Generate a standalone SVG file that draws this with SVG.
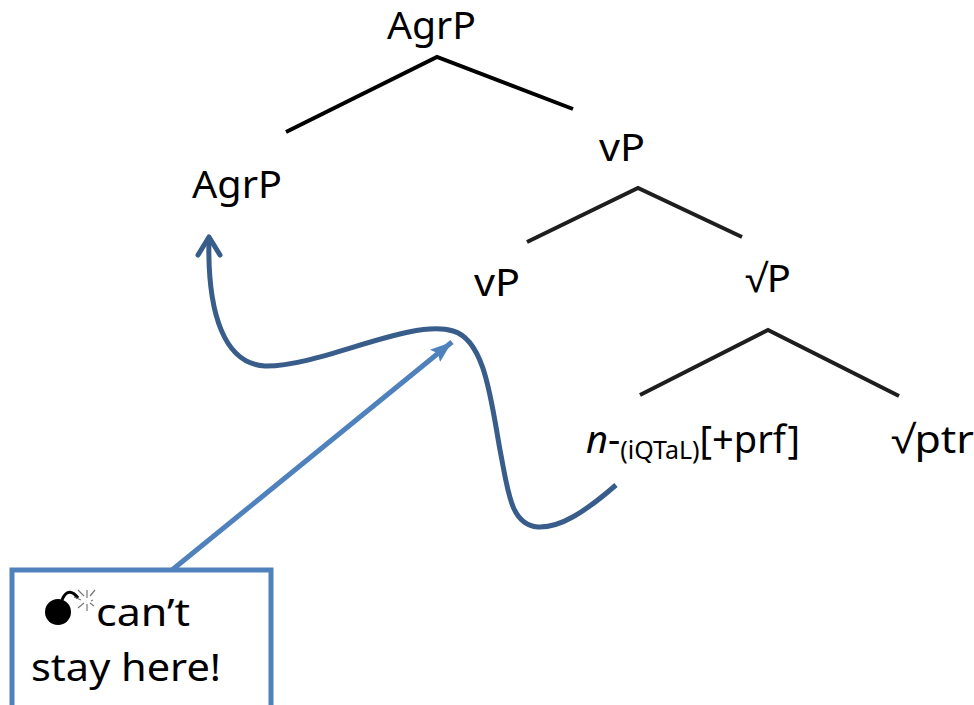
<svg xmlns="http://www.w3.org/2000/svg" width="974" height="705" viewBox="0 0 974 705">
<style>
text{font-family:"Noto Sans","Open Sans",sans-serif;font-size:38px;fill:#000}
.e{fill:none;stroke:#000;stroke-width:4}
.e2{fill:none;stroke:#1e1e1e;stroke-width:4}
</style>
<defs><marker id="tip" markerUnits="userSpaceOnUse" markerWidth="24" markerHeight="22" refX="22" refY="11" orient="auto"><path d="M0 3L22 11L0 19L4 11Z" fill="#4f81bd"/></marker></defs>
<rect width="974" height="705" fill="#fff"/>
<g id="connectors">
<path class="e" d="M286 132L437 57L573 109"/>
<path class="e2" d="M527 242L638 188L742 237"/>
<path class="e2" d="M640 395L768 330L899 396"/>
<path d="M616 485C585 512 560 528 538 527C510 525 508 490 500 450C491 400 485 340 453 331C410 318 320 367 265 366C225 364 207 315 209 238" fill="none" stroke="#385d8a" stroke-width="5"/>
<path d="M198 255L209 237L220 255" fill="none" stroke="#385d8a" stroke-width="5" stroke-linecap="round" stroke-linejoin="round"/>
<path d="M172 570L452 342" fill="none" stroke="#4f81bd" stroke-width="5" marker-end="url(#tip)"/>
</g>
<g id="n-agrp-top"><text x="387" y="39" textLength="89" lengthAdjust="spacingAndGlyphs">AgrP</text></g>
<g id="n-agrp"><text x="192" y="198" textLength="90" lengthAdjust="spacingAndGlyphs">AgrP</text></g>
<g id="n-vp-top"><text x="599" y="161" textLength="46" lengthAdjust="spacingAndGlyphs">vP</text></g>
<g id="n-vp"><text x="474" y="296" textLength="46" lengthAdjust="spacingAndGlyphs">vP</text></g>
<g id="n-rootp"><text x="745" y="292" textLength="46" lengthAdjust="spacingAndGlyphs">√P</text></g>
<g id="n-n"><text x="586" y="453"><tspan font-style="italic">n</tspan><tspan>-</tspan><tspan font-size="25" dy="6">(iQTaL)</tspan><tspan dy="-6">[+prf]</tspan></text></g>
<g id="n-ptr"><text x="891" y="453" textLength="83" lengthAdjust="spacingAndGlyphs">√ptr</text></g>
<g id="callout">
<rect x="12" y="570" width="259" height="150" fill="#fff" stroke="#4f81bd" stroke-width="5"/>
<circle cx="58" cy="612" r="13" fill="#000"/>
<path d="M62 600C66 590 72 590 78 598" fill="none" stroke="#000" stroke-width="3"/>
<path d="M87 590V598M87 604V611M74 597L81 600M93 600L91 601M78 608L84 603M90 603L94 606M78 590L84 596M95 590L90 596" stroke="#777" stroke-width="1.2"/>
<text x="96" y="626" textLength="94" lengthAdjust="spacingAndGlyphs">can’t</text>
<text x="31" y="681" textLength="190" lengthAdjust="spacingAndGlyphs">stay here!</text>
</g>
</svg>
